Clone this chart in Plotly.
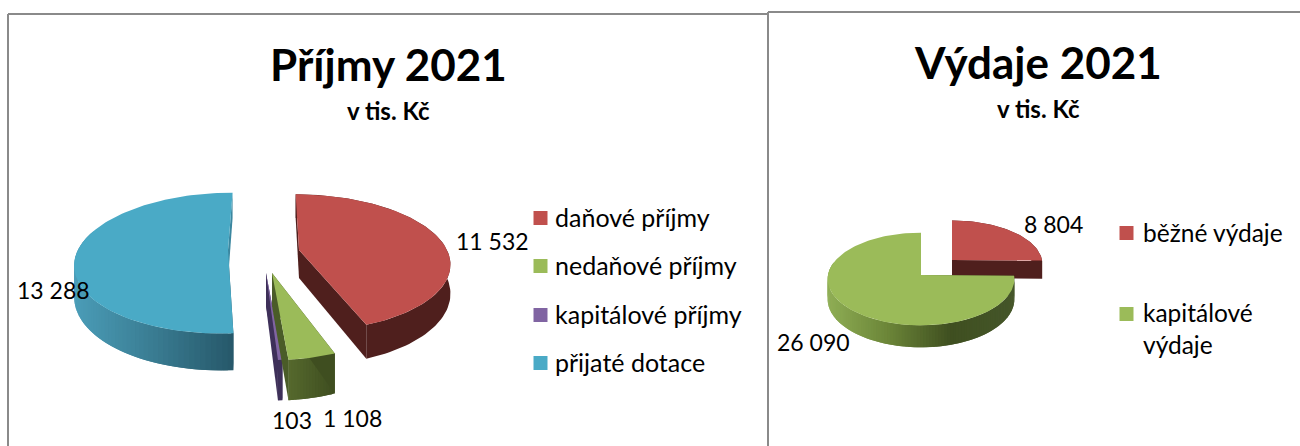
import math
import plotly.graph_objects as go

# ---- data ----
income_labels = ["daňové příjmy", "nedaňové příjmy", "kapitálové příjmy", "přijaté dotace"]
income_values = [11532, 1108, 103, 13288]
income_text = ["11 532", "1 108", "103", "13 288"]
spend_labels = ["běžné výdaje", "kapitálové<br>výdaje"]
spend_values = [8804, 26090]
spend_text = ["8 804", "26 090"]

FONT = "Lato"
RED, GREEN, PURPLE, BLUE = "#c0504d", "#9bbb59", "#8064a2", "#4aaac6"


def hex2rgb(h):
    return [int(h[i:i + 2], 16) for i in (1, 3, 5)]


def ramp(stops, t):
    n = len(stops) - 1
    i = min(int(t * n), n - 1)
    f = t * n - i
    a, b = hex2rgb(stops[i]), hex2rgb(stops[i + 1])
    return "rgb(%d,%d,%d)" % tuple(round(a[k] + (b[k] - a[k]) * f) for k in range(3))


fig = go.Figure()


def poly(xs, ys, color):
    fig.add_trace(go.Scatter(x=xs + xs[:1], y=ys + ys[:1], mode="lines", fill="toself",
                             fillcolor=color, line=dict(color=color, width=0),
                             hoverinfo="skip", showlegend=False))


def draw_slice(a0, a1, view, style):
    ax, ay, R, Ry, p, h, shear = view

    def top(t):
        X, Y = math.sin(t), math.cos(t)
        w = 1 + p * Y
        dy = -Ry * Y / w
        return ax + R * X / w + shear * dy, ay + dy

    def low(t):
        x, y = top(t)
        return x, y + h / (1 + p * math.cos(t))

    n = max(16, int((a1 - a0) / 0.03))
    ts = [a0 + (a1 - a0) * i / n for i in range(n + 1)]
    xtop = [top(t)[0] for t in ts]
    xmin, xmax = min(xtop), max(xtop)
    # rim wall, shaded left to right
    if len(set(style["wall"])) == 1:
        pts = [top(t) for t in ts] + [low(t) for t in reversed(ts)]
        poly([q[0] for q in pts], [q[1] for q in pts], style["wall"][0])
    else:
        # paint overlapping bands so no seams show
        for i in range(n):
            t0, t1 = ts[i], ts[min(i + 2, n)]
            if math.cos(t0) > 0.25 and math.cos(t1) > 0.25:
                continue
            pts = [top(t0), top(t1), low(t1), low(t0)]
            frac = (top(ts[i])[0] - xmin) / max(xmax - xmin, 1e-6)
            poly([q[0] for q in pts], [q[1] for q in pts], ramp(style["wall"], min(max(frac, 0), 1)))
    # cut faces
    for t, col in ((a0, style["cut0"]), (a1, style["cut1"])):
        pts = [(ax, ay), top(t), low(t), (ax, ay + h)]
        poly([q[0] for q in pts], [q[1] for q in pts], col)
    # upper face
    pts = [(ax, ay)] + [top(t) for t in ts]
    poly([q[0] for q in pts], [q[1] for q in pts], style["top"])


def angles(values):
    total = sum(values)
    out, s = [], 0
    for v in values:
        out.append((2 * math.pi * s / total, 2 * math.pi * (s + v) / total))
        s += v
    return out


inc = angles(income_values)
spd = angles(spend_values)

# (apex x, apex y, radius x, radius y, perspective, depth, shear)
draw_slice(*inc[3], (228, 250, 150, 68, 0.186, 30, -0.08),
           dict(top=BLUE, wall=["#4b9db8", "#3a7d93", "#27596b"], cut0="#27596b", cut1="#3b87a0"))
draw_slice(*inc[2], (266, 273, 148, 71, 0.186, 33, 0.0),
           dict(top=PURPLE, wall=["#3e3059", "#3e3059"], cut0="#3e3059", cut1="#3e3059"))
draw_slice(*inc[1], (272, 273, 148, 71, 0.186, 33, 0.0),
           dict(top=GREEN, wall=["#566a2e", "#3f4e20"], cut0="#3f4e20", cut1="#4a5c28"))
draw_slice(*inc[0], (299, 250, 148, 66, 0.186, 28, 0.06),
           dict(top=RED, wall=["#4f1f1d", "#4f1f1d"], cut0="#4f1f1d", cut1="#4f1f1d"))
draw_slice(*spd[0], (952, 260, 90, 43, 0.087, 18, 0.0),
           dict(top=RED, wall=["#4f1f1d", "#4f1f1d"], cut0="#4f1f1d", cut1="#4f1f1d"))
draw_slice(*spd[1], (921, 275, 93, 46, 0.087, 20, 0.0),
           dict(top=GREEN, wall=["#8fae55", "#6b8538", "#3f4f20", "#45562a"], cut0="#45562a", cut1="#45562a"))

ann = []


def text(x, y, s, size, bold=False, anchor="center"):
    ann.append(dict(x=x, y=y, xref="x", yref="y", text=("<b>%s</b>" % s) if bold else s,
                    showarrow=False, xanchor=anchor, yanchor="middle", align="left",
                    font=dict(family=FONT, size=size, color="#000000")))


text(388, 64, "Příjmy 2021", 44, True)
text(388, 110, "v tis. Kč", 24, True)
text(1038, 62, "Výdaje 2021", 44, True)
text(1038, 108, "v tis. Kč", 24, True)

for s, (x, y) in zip(income_text, [(492, 241), (352, 418), (292, 420), (53, 290)]):
    text(x, y, s, 23)
for s, (x, y) in zip(spend_text, [(1053, 224), (813, 342)]):
    text(x, y, s, 23)

for lab, col, y in zip(income_labels, [RED, GREEN, PURPLE, BLUE], [218, 266, 315, 363]):
    fig.add_trace(go.Scatter(x=[540.5], y=[y], mode="markers", hoverinfo="skip", showlegend=False,
                             marker=dict(symbol="square", size=14, color=col)))
    text(553, y - 1, lab, 25, anchor="left")
for lab, col, y, ty in zip(spend_labels, [RED, GREEN], [233, 314], [232, 328]):
    fig.add_trace(go.Scatter(x=[1126.5], y=[y], mode="markers", hoverinfo="skip", showlegend=False,
                             marker=dict(symbol="square", size=14, color=col)))
    text(1141, ty, lab, 24.5, anchor="left")

BORDER = dict(color="#8a8a8a", width=2)
shapes = [
    dict(type="line", xref="x", yref="y", x0=8, x1=8, y0=14, y1=446, line=BORDER),
    dict(type="line", xref="x", yref="y", x0=8, x1=768, y0=14, y1=14, line=BORDER),
    dict(type="line", xref="x", yref="y", x0=768, x1=768, y0=12, y1=446, line=BORDER),
    dict(type="line", xref="x", yref="y", x0=768, x1=1300, y0=12, y1=12, line=BORDER),
]

fig.update_layout(
    width=1300, height=446, margin=dict(l=0, r=0, t=0, b=0),
    paper_bgcolor="white", plot_bgcolor="white", showlegend=False,
    xaxis=dict(range=[0, 1300], visible=False, fixedrange=True),
    yaxis=dict(range=[446, 0], visible=False, fixedrange=True),
    annotations=ann, shapes=shapes,
)
fig.write_html("out.html", config=dict(displayModeBar=False),
               post_script="document.body.style.margin='0';document.body.style.overflow='hidden';")
